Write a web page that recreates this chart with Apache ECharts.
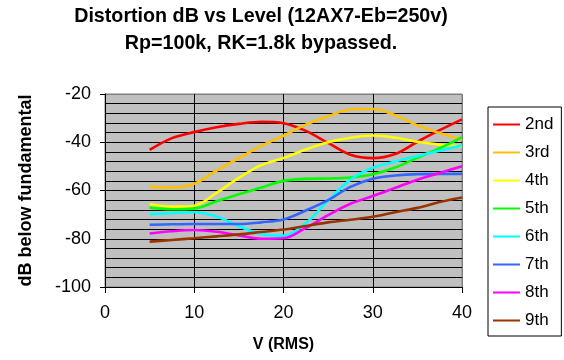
<!DOCTYPE html>
<html>
<head>
<meta charset="utf-8">
<script src="https://cdn.jsdelivr.net/npm/echarts@6/dist/echarts.min.js"></script>
<style>html,body{margin:0;padding:0;background:#fff;}#c{width:564px;height:360px;}</style>
</head>
<body>
<div id="c"></div>
<script>
const volts = [5, 7.5, 10, 12.5, 15, 17.5, 20, 22.5, 25, 27.5, 30, 32.5, 35, 37.5, 40];
const names = ['2nd', '3rd', '4th', '5th', '6th', '7th', '8th', '9th'];
const h2 = [-43.2, -38.3, -35.8, -33.8, -32.4, -31.5, -32.1, -35.3, -40.3, -45.2, -46.6, -44.9, -39.8, -35.0, -30.5];
const h3 = [-58.5, -58.8, -57.2, -51.8, -46.6, -41.5, -37.3, -32.7, -29.2, -26.4, -26.2, -28.8, -33.0, -36.2, -39.0];
const h4 = [-65.7, -66.7, -66.3, -61.0, -54.8, -49.5, -46.5, -43.0, -40.0, -38.1, -37.2, -38.1, -39.8, -41.0, -41.7];
const h5 = [-67.1, -67.8, -67.5, -64.5, -61.6, -58.8, -56.0, -55.2, -55.0, -54.6, -53.3, -50.5, -46.4, -42.5, -38.0];
const h6 = [-69.8, -69.4, -69.0, -70.8, -74.8, -78.1, -78.7, -73.5, -64.2, -55.5, -50.6, -48.0, -45.7, -43.5, -41.3];
const h7 = [-74.2, -74.0, -73.9, -73.9, -73.9, -73.2, -72.0, -68.3, -64.0, -58.5, -55.1, -53.8, -53.2, -53.1, -53.1];
const h8 = [-77.8, -76.9, -76.4, -77.1, -78.6, -80.0, -79.8, -75.5, -70.2, -65.5, -62.3, -58.9, -55.5, -52.7, -49.9];
const h9 = [-81.2, -80.5, -79.8, -79.0, -78.2, -77.2, -76.2, -74.7, -73.2, -72.1, -70.9, -69.0, -67.2, -64.8, -62.9];
const xTicks = [0, 10, 20, 30, 40];
const yTicks = [-100, -80, -60, -40, -20];

const seriesData = [h2, h3, h4, h5, h6, h7, h8, h9];
const colors = ['#FF0000', '#FFC000', '#FFFF00', '#00FF00', '#00FFFF', '#3366FF', '#FF00FF', '#993300'];
const FONT = 'Liberation Sans, Arial, sans-serif';

const chart = echarts.init(document.getElementById('c'), null, {renderer: 'canvas'});
chart.setOption({
  animation: false,
  backgroundColor: '#ffffff',
  title: {
    text: 'Distortion dB vs Level (12AX7-Eb=250v)\nRp=100k, RK=1.8k bypassed.',
    left: 261, top: 3, padding: 0,
    textAlign: 'center',
    textStyle: {fontFamily: FONT, fontSize: 19.7, fontWeight: 'bold', color: '#000', lineHeight: 27}
  },
  legend: {
    orient: 'vertical',
    left: 488, top: 107,
    padding: [9, 8, 7, 4],
    itemWidth: 27, itemHeight: 14, itemGap: 11,
    backgroundColor: '#fff',
    borderColor: '#000', borderWidth: 1, borderRadius: 0,
    itemStyle: {opacity: 0},
    lineStyle: {width: 2},
    textStyle: {fontFamily: FONT, fontSize: 17, color: '#000'},
    data: names
  },
  grid: {
    left: 105, right: 102, top: 94, bottom: 73,
    show: true, backgroundColor: '#C0C0C0', borderColor: '#808080', borderWidth: 1
  },
  xAxis: {
    type: 'value', min: xTicks[0], max: xTicks[xTicks.length - 1], interval: 10,
    name: 'V (RMS)', nameLocation: 'middle', nameGap: 50,
    nameTextStyle: {fontFamily: FONT, fontSize: 16, fontWeight: 'bold', color: '#000'},
    axisLine: {show: true, lineStyle: {color: '#000', width: 1}},
    axisTick: {show: true, inside: false, length: 6, lineStyle: {color: '#000'}},
    axisLabel: {fontFamily: FONT, fontSize: 18, color: '#000', margin: 17},
    splitLine: {show: true, lineStyle: {color: ['#000', '#000', '#000', '#000', '#808080'], width: 1}}
  },
  yAxis: {
    type: 'value', min: yTicks[0], max: yTicks[yTicks.length - 1], interval: 20,
    name: 'dB below fundamental', nameLocation: 'middle', nameGap: 70, nameRotate: 90,
    nameTextStyle: {fontFamily: FONT, fontSize: 18, fontWeight: 'bold', color: '#000'},
    axisLine: {show: true, lineStyle: {color: '#000', width: 1}},
    axisTick: {show: true, inside: false, length: 5, lineStyle: {color: '#000'}},
    axisLabel: {fontFamily: FONT, fontSize: 18, color: '#000', margin: 14},
    splitLine: {show: true, lineStyle: {color: ['#000', '#000', '#000', '#000', '#808080'], width: 1}},
    minorTick: {show: false, splitNumber: 5},
    minorSplitLine: {show: true, lineStyle: {color: '#000', width: 1}}
  },
  series: names.map((n, i) => ({
    name: n,
    type: 'line',
    smooth: 0.35,
    symbol: 'none',
    color: colors[i],
    lineStyle: {color: colors[i], width: 2.6},
    data: volts.map((v, j) => [v, seriesData[i][j]])
  }))
});
</script>
</body>
</html>
